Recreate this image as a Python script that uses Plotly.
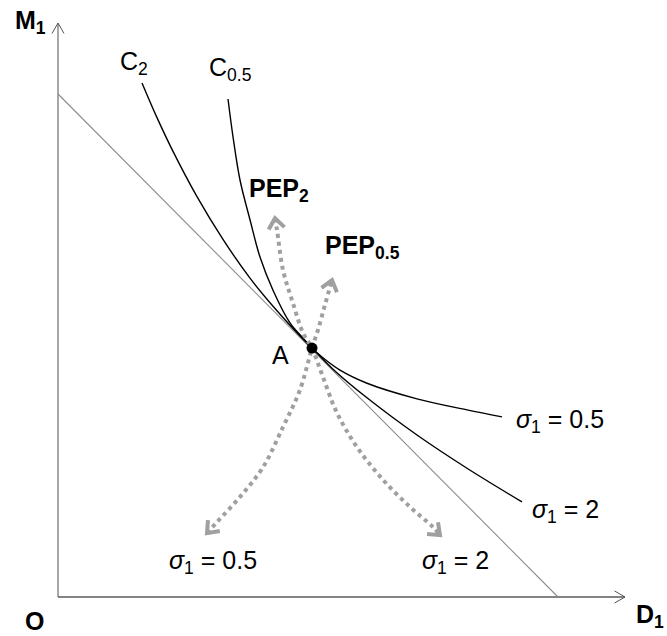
import math
import plotly.graph_objects as go

# ---- data (diagram units) ----
axis_end_x = 11.34
axis_end_y = 11.41

budget_x = [0.0, 10.0]
budget_y = [10.0, 0.0]

point_A = (5.08, 4.95)

# isoquant C2 (sigma1 = 2)
c2_x = [1.68, 1.98, 2.30, 2.78, 3.30, 3.84, 4.38, 4.84, 5.08, 5.50, 6.18, 7.18, 8.18, 9.28]
c2_y = [10.22, 9.53, 8.86, 7.96, 7.11, 6.34, 5.69, 5.19, 4.95, 4.53, 3.96, 3.22, 2.56, 1.89]

# isoquant C0.5 (sigma1 = 0.5)
c05_x = [3.40, 3.50, 3.64, 3.84, 4.04, 4.30, 4.64, 4.88, 5.08, 5.28, 5.64, 6.18, 7.18, 8.18, 8.88]
c05_y = [9.90, 9.15, 8.29, 7.50, 6.76, 6.10, 5.45, 5.17, 4.95, 4.77, 4.51, 4.25, 3.94, 3.72, 3.58]

# price expansion paths
pep2_x = [4.34, 4.38, 4.50, 4.70, 4.90, 5.08, 5.30, 5.58, 5.98, 6.50, 7.04, 7.50, 7.64]
pep2_y = [7.53, 7.30, 6.50, 5.84, 5.25, 4.95, 4.37, 3.66, 2.98, 2.33, 1.79, 1.39, 1.23]

pep05_x = [2.98, 3.18, 3.64, 4.10, 4.50, 4.84, 5.08, 5.20, 5.34, 5.48]
pep05_y = [1.27, 1.49, 1.99, 2.58, 3.38, 4.12, 4.95, 5.31, 5.81, 6.30]

# ---- layout geometry ----
W, H = 667, 636
SX, SY = 50.0, 50.3          # pixels per unit
X0, Y0 = 58, 597             # pixel position of origin
xr = [-X0 / SX, (W - X0) / SX]
yr = [(Y0 - H) / SY, Y0 / SY]

GRAY = "#a0a0a0"


def chevron(tip, prev, length_px, ang_deg):
    dx = (tip[0] - prev[0]) * SX
    dy = (tip[1] - prev[1]) * SY
    n = math.hypot(dx, dy)
    ux, uy = dx / n, dy / n
    xs, ys = [], []
    for s in (1, -1):
        a = math.radians(ang_deg) * s
        rx = ux * math.cos(a) - uy * math.sin(a)
        ry = ux * math.sin(a) + uy * math.cos(a)
        xs.append(tip[0] - rx * length_px / SX)
        ys.append(tip[1] - ry * length_px / SY)
    return [xs[0], tip[0], xs[1]], [ys[0], tip[1], ys[1]]


fig = go.Figure()

# axes
fig.add_trace(go.Scatter(x=[0, 0], y=[0, axis_end_y], mode="lines",
                         line=dict(color="#8a8a8a", width=1.5), hoverinfo="skip"))
fig.add_trace(go.Scatter(x=[0, axis_end_x], y=[0, 0], mode="lines",
                         line=dict(color="#5a5a5a", width=1.5), hoverinfo="skip"))
ax_x, ax_y = chevron((0, axis_end_y), (0, 0), 12, 30)
fig.add_trace(go.Scatter(x=ax_x, y=ax_y, mode="lines",
                         line=dict(color="#555555", width=1), hoverinfo="skip"))
ax_x, ax_y = chevron((axis_end_x, 0), (0, 0), 12, 30)
fig.add_trace(go.Scatter(x=ax_x, y=ax_y, mode="lines",
                         line=dict(color="#555555", width=1), hoverinfo="skip"))

# budget line
fig.add_trace(go.Scatter(x=budget_x, y=budget_y, mode="lines",
                         line=dict(color="#8c8c8c", width=1.1), hoverinfo="skip"))

# isoquants
for cx, cy in ((c2_x, c2_y), (c05_x, c05_y)):
    fig.add_trace(go.Scatter(x=cx, y=cy, mode="lines",
                             line=dict(color="black", width=1.4, shape="spline", smoothing=1.0),
                             hoverinfo="skip"))

# price expansion paths (dotted) with open arrowheads
for px_, py_ in ((pep2_x, pep2_y), (pep05_x, pep05_y)):
    fig.add_trace(go.Scatter(x=px_, y=py_, mode="lines",
                             line=dict(color=GRAY, width=4, dash="dot", shape="spline", smoothing=1.0),
                             hoverinfo="skip"))
    for tip, prev in (((px_[0], py_[0]), (px_[2], py_[2])),
                      ((px_[-1], py_[-1]), (px_[-3], py_[-3]))):
        hx, hy = chevron(tip, prev, 13, 38)
        fig.add_trace(go.Scatter(x=hx, y=hy, mode="lines",
                                 line=dict(color=GRAY, width=4), hoverinfo="skip"))

# point A
fig.add_trace(go.Scatter(x=[point_A[0]], y=[point_A[1]], mode="markers",
                         marker=dict(color="black", size=11), hoverinfo="skip"))

FONT = "Arial, Liberation Sans, sans-serif"
labels = [
    ("<b>M<sub>1</sub></b>", -0.9, 11.43),
    ("C<sub>2</sub>", 1.2, 10.62),
    ("C<sub>0.5</sub>", 2.98, 10.5),
    ("<b>PEP<sub>2</sub></b>", 3.78, 8.09),
    ("<b>PEP<sub>0.5</sub></b>", 5.3, 6.96),
    ("A", 4.24, 4.81),
    ("<i>σ</i><sub>1</sub> = 0.5", 9.12, 3.5),
    ("<i>σ</i><sub>1</sub> = 2", 9.44, 1.71),
    ("<i>σ</i><sub>1</sub> = 0.5", 2.18, 0.7),
    ("<i>σ</i><sub>1</sub> = 2", 7.24, 0.7),
    ("<b>O</b>", -0.7, -0.48),
    ("<b>D<sub>1</sub></b>", 11.52, -0.38),
]
for text, x, y in labels:
    fig.add_annotation(x=x, y=y, text=text, showarrow=False, xanchor="left", yanchor="middle",
                       font=dict(family=FONT, size=25, color="black"))

fig.update_layout(
    width=W, height=H,
    margin=dict(l=0, r=0, t=0, b=0),
    paper_bgcolor="white", plot_bgcolor="white",
    showlegend=False,
    xaxis=dict(range=xr, visible=False, fixedrange=True),
    yaxis=dict(range=yr, visible=False, fixedrange=True),
)

fig.write_html("out.html")
